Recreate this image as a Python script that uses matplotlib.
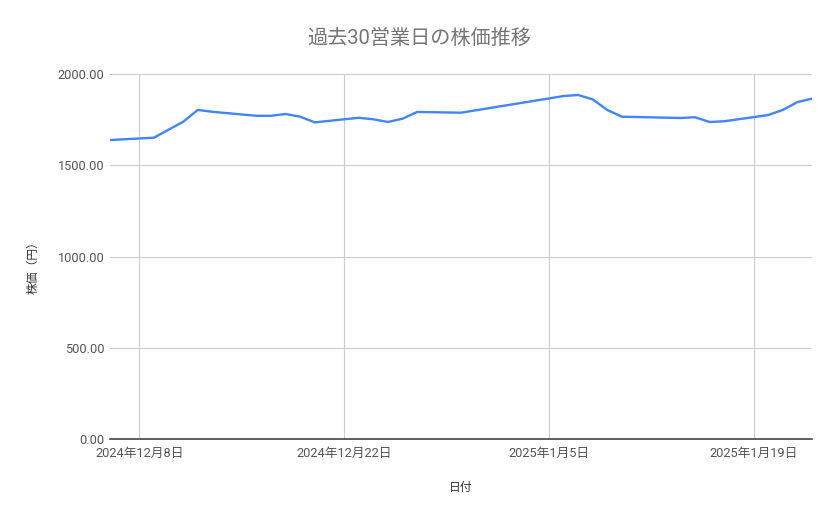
import matplotlib
matplotlib.use("Agg")
import matplotlib.pyplot as plt
import matplotlib.dates as mdates
import numpy as np
import pandas as pd

# 営業日（日本の休場日を除く）
dates = pd.to_datetime([
    "2024-12-06", "2024-12-09", "2024-12-10", "2024-12-11", "2024-12-12",
    "2024-12-13", "2024-12-16", "2024-12-17", "2024-12-18", "2024-12-19",
    "2024-12-20", "2024-12-23", "2024-12-24", "2024-12-25", "2024-12-26",
    "2024-12-27", "2024-12-30", "2025-01-06", "2025-01-07", "2025-01-08",
    "2025-01-09", "2025-01-10", "2025-01-14", "2025-01-15", "2025-01-16",
    "2025-01-17", "2025-01-20", "2025-01-21", "2025-01-22", "2025-01-23",
])

# 終値（円）
prices = [
    1638, 1651, 1695, 1738, 1803,
    1793, 1771, 1771, 1781, 1766,
    1735, 1760, 1752, 1737, 1755,
    1792, 1788, 1879, 1885, 1861,
    1803, 1766, 1759, 1763, 1737,
    1741, 1775, 1803, 1846, 1865,
]

tick_dates = pd.to_datetime(["2024-12-08", "2024-12-22", "2025-01-05", "2025-01-19"])
tick_labels = ["2024年12月8日", "2024年12月22日", "2025年1月5日", "2025年1月19日"]
y_ticks = [0, 500, 1000, 1500, 2000]

plt.rcParams['font.family'] = ['Roboto', 'Noto Sans CJK JP', 'DejaVu Sans']

fig = plt.figure(figsize=(8.39, 5.19), dpi=100)
ax = fig.add_axes([110 / 839, 80 / 519, 702 / 839, 365 / 519])

ax.plot(dates, prices, color="#4285F4", linewidth=1.7, solid_joinstyle="round")

ax.set_xlim(pd.Timestamp("2024-12-06"), pd.Timestamp("2025-01-23"))
ax.set_ylim(0, 2000)

ax.set_xticks(tick_dates)
ax.set_xticklabels(tick_labels)
ax.set_yticks(y_ticks)
ax.set_yticklabels([f"{v:.2f}" for v in y_ticks])

ax.grid(True, color="#cccccc", linewidth=0.8)
ax.set_axisbelow(True)
for s in ["top", "right", "left"]:
    ax.spines[s].set_visible(False)
ax.spines["bottom"].set_color("#333333")
ax.spines["bottom"].set_linewidth(1.1)
ax.spines["bottom"].set_zorder(3)

ax.tick_params(axis="both", length=0, labelsize=9.2, labelcolor="#555555")
ax.tick_params(axis="x", pad=6)
ax.tick_params(axis="y", pad=4)

fig.text(0.5, 1 - 38 / 519, "過去30営業日の株価推移", ha="center", va="center",
         fontsize=14.5, color="#757575")
fig.text(33 / 839, 1 - 265 / 519, "株価（円）", rotation=90, ha="center", va="center",
         fontsize=8.5, color="#333333")
fig.text(461 / 839, 1 - 487 / 519, "日付", ha="center", va="center",
         fontsize=8.5, color="#333333")

fig.savefig("out.png", dpi=100, facecolor="white")
